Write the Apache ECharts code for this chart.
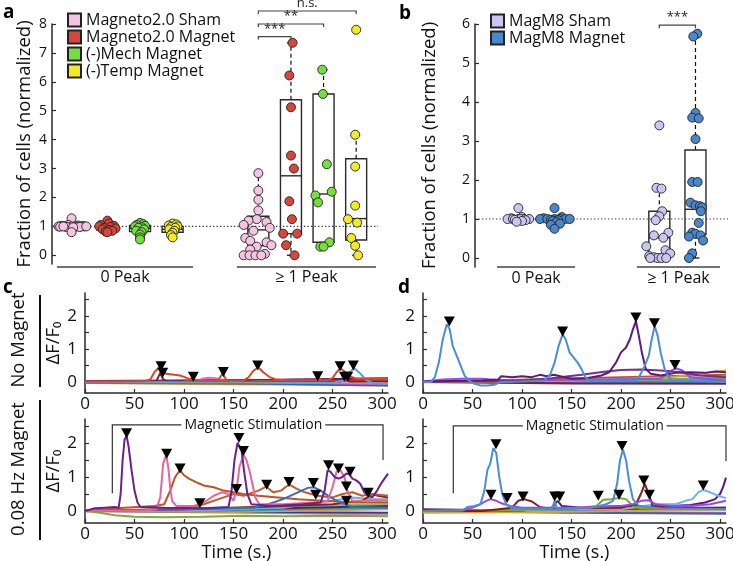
<!DOCTYPE html>
<html><head><meta charset="utf-8">
<script src="https://cdn.jsdelivr.net/npm/echarts@6/dist/echarts.min.js"></script>
<style>html,body{margin:0;padding:0;background:#fff}#c{width:733px;height:561px}</style>
</head><body><div id="c"></div><script>
// ---------- Panel a data ----------
const aLegend = ['Magneto2.0 Sham','Magneto2.0 Magnet','(-)Mech Magnet','(-)Temp Magnet'];
const aSham0 = [1.28,1.05,1.03,1.02,1.01,1.0,1.0,1.0,1.0,1.0,1.0,0.99,0.99,0.98,0.98,0.97,1.0,1.0,0.8];
const aSham0J = [0,-0.1,0.2,-0.3,0.35,-0.4,-0.2,0,0.15,0.3,0.4,-0.35,0.1,-0.15,0.25,0.05,-0.25,0.45,0];
const aMag0 = [1.2,1.1,1.05,1.02,1.0,0.98,0.95,0.93,0.9,0.88,0.85,0.82,0.8];
const aMag0J = [0,0.05,-0.2,0.2,-0.25,0.1,-0.1,0.25,-0.15,0.05,0.15,-0.05,0];
const aMech0 = [1.12,1.08,1.05,1.02,1.0,0.97,0.95,0.9,0.85,0.8,0.72,0.62,0.55];
const aMech0J = [0,0.1,-0.1,0.15,-0.15,0.05,-0.05,0.12,-0.12,0.05,0,0,0];
const aTemp0 = [1.1,1.07,1.03,1.0,0.98,0.95,0.9,0.85,0.78,0.7,0.62];
const aTemp0J = [0,0.12,-0.12,0.15,-0.05,0.08,-0.1,0.05,0,-0.05,0];
const aSham1 = [2.84,2.24,1.92,1.55,1.25,1.2,1.15,1.05,0.95,0.85,0.6,0.5,0.45,0.35,0.3,0.2,0.05,0,0,0,0];
const aSham1J = [0,0,0,0,-0.05,-0.3,0.25,-0.45,0.35,-0.15,-0.4,-0.25,0.25,0.4,-0.05,-0.25,0.2,-0.45,-0.27,-0.09,0.09];
const aMag1 = [7.35,6.22,5.12,3.45,3.0,1.87,1.25,0.75,0.75,0.35,0];
const aMag1J = [0.05,-0.05,0,0,0.09,-0.05,0.03,-0.24,0.19,-0.15,0.11];
const aMech1 = [6.42,5.58,3.15,2.2,2.07,1.83,0.45,0.3,0.3];
const aMech1J = [-0.04,-0.02,0.1,0.25,-0.25,-0.17,0.18,-0.1,0];
const aTemp1 = [7.8,4.17,3.07,1.72,1.25,1.13,0.6,0.33,0];
const aTemp1J = [0,-0.03,-0.03,-0.03,-0.25,0.03,-0.15,-0.03,0.06];
// box stats: [low whisker, q1, median, q3, high whisker]
const aBox0 = [[0.95,0.98,1.0,1.03,1.05],[0.8,0.88,0.95,1.0,1.1],[0.62,0.82,0.93,1.03,1.12],[0.62,0.8,0.9,1.0,1.1]];
const aBox1 = [[0,0.33,0.88,1.35,2.84],[0,0.75,2.75,5.38,7.35],[0.3,0.45,2.12,5.58,6.42],[0,0.53,1.27,3.34,4.17]];
const aSigLabels = ['***','**','n.s.'];
const aSigLevels = [7.56,8.0,8.45];
const yTicksA = [0,1,2,3,4,5,6,7,8];

// ---------- Panel b data ----------
const bLegend = ['MagM8 Sham','MagM8 Magnet'];
const bSham0 = [1.28,1.05,1.02,1.0,1.0,1.0,1.0,1.0,1.0,0.98,0.97,0.95,0.93];
const bSham0J = [0,0.1,-0.2,-0.3,-0.15,0,0.15,0.3,0.05,-0.1,0.2,0.1,-0.05];
const bMag0 = [1.28,1.05,1.02,1.0,1.0,1.0,1.0,1.0,1.0,0.98,0.97,0.95,0.92,0.88,0.85,0.75];
const bMag0J = [0,0.2,-0.3,-0.4,-0.2,0,0.15,0.3,0.42,-0.1,0.1,-0.05,0.05,0.15,-0.1,0];
const bSham1 = [3.4,1.8,1.78,1.2,1.07,0.97,0.65,0.58,0.52,0.3,0.2,0.12,0.05,0.02,0,0,0,0];
const bSham1J = [0,-0.08,0.06,0.08,0,-0.1,0.25,-0.15,0.11,-0.36,0.17,0.3,-0.28,-0.15,-0.05,0.06,0.19,-0.25];
const bMag1 = [5.75,5.68,3.72,3.6,3.58,3.05,1.95,1.95,1.42,1.35,1.33,1.3,1.2,0.9,0.65,0.62,0.58,0.55,0.45,0.12,0];
const bMag1J = [0.05,-0.06,0,-0.09,0.09,0,-0.09,0.06,-0.14,0,0.12,0.18,0.15,0.09,-0.09,0,0.14,-0.18,0.21,-0.09,-0.18];
const bBox0 = [[0.95,0.97,1.0,1.03,1.05],[0.9,0.95,1.0,1.02,1.05]];
const bBox1 = [[0,0.1,0.52,1.2,1.8],[0,0.6,1.25,2.77,5.75]];
const bSigLabels = ['***'];
const bSigLevels = [5.97];
const yTicksB = [0,1,2,3,4,5,6];
const groupLabels = ['0 Peak','\u2265 1 Peak'];

// ---------- Panel c/d traces: [time (s), dF/F0] ----------
const cT_red = [[0,0.02],[30,0.02],[60,0.03],[66,0.08],[70,0.3],[75,0.45],[78,0.32],[82,0.25],[90,0.22],[96,0.2],[100,0.16],[105,0.1],[112,0.06],[130,0.05],[160,0.05],[165,0.14],[170,0.34],[175,0.45],[180,0.3],[186,0.16],[192,0.09],[205,0.06],[245,0.06],[250,0.12],[254,0.3],[258,0.42],[262,0.32],[267,0.18],[274,0.1],[290,0.1],[306,0.12]];
const cT_maroon = [[0,0.0],[60,0.0],[72,0.03],[76,0.28],[79,0.08],[84,0.0],[140,0.02],[150,0.06],[158,0.03],[175,0.0],[258,0.02],[263,0.12],[267,0.02],[306,0.02]];
const cT_orange = [[0,0.01],[100,0.02],[106,0.05],[109,0.12],[113,0.03],[134,0.04],[139,0.26],[143,0.05],[180,0.03],[231,0.04],[235,0.14],[239,0.03],[306,0.04]];
const cT_pink = [[0,0.0],[112,0.0],[118,0.1],[125,0.13],[132,0.12],[137,0.08],[145,0.01],[200,-0.02],[306,-0.05]];
const cT_lblue = [[0,0],[250,-0.02],[262,0.05],[267,0.3],[272,0.42],[278,0.26],[284,0.06],[290,-0.02],[306,-0.05]];
const cT_purple = [[0,0.03],[100,0.05],[200,0.07],[306,0.12]];
const cT_blue = [[0,0],[150,-0.02],[250,-0.08],[306,-0.1]];
const cT_green = [[0,0],[150,0.02],[306,0.08]];
const cT_brown = [[0,-0.02],[150,-0.05],[306,-0.08]];
const cT_dred = [[0,0],[200,-0.04],[306,-0.06]];
const cT_violet = [[0,0.01],[306,0.1]];
const cT_yellow = [[0,-0.03],[306,-0.1]];
const cTopPeaks = [[76.8,0.48],[78.5,0.28],[109.4,0.16],[139.7,0.31],[174.4,0.5],[235,0.18],[257.6,0.48],[262,0.16],[265.3,0.16],[271,0.5]];

const cB_purple = [[0,0.0],[10,0.08],[20,0.1],[30,0.12],[34,0.1],[36,0.5],[38,1.5],[40,2.1],[42,2.2],[44,1.9],[47,1.2],[50,0.6],[53,0.25],[56,0.12],[80,0.1],[120,0.08],[145,0.12],[148,0.6],[151,1.5],[154,2.0],[156,2.05],[158,1.8],[161,1.1],[164,0.5],[168,0.2],[190,0.15],[220,0.2],[238,0.25],[242,0.6],[245,1.2],[248,1.15],[252,1.0],[256,0.95],[260,1.0],[264,1.1],[267,1.08],[270,0.95],[274,0.9],[278,0.8],[282,0.55],[286,0.45],[290,0.4],[295,0.6],[300,0.85],[306,1.1]];
const cB_pink = [[0,0.0],[60,0.02],[72,0.05],[76,0.4],[79,1.4],[82,1.65],[84,1.3],[86,0.7],[88,0.3],[92,0.15],[110,0.15],[120,0.25],[130,0.45],[138,0.55],[145,0.5],[150,0.3],[153,0.6],[156,1.3],[160,1.65],[163,1.5],[166,1.2],[169,0.8],[172,0.4],[176,0.2],[200,0.2],[230,0.25],[245,0.3],[250,0.7],[254,1.15],[258,1.2],[262,1.0],[265,0.6],[270,0.3],[306,0.3]];
const cB_orange = [[0,0.0],[40,0.1],[70,0.15],[80,0.2],[86,0.6],[91,1.0],[96,1.2],[100,1.05],[105,0.95],[112,0.85],[120,0.75],[130,0.7],[140,0.6],[150,0.55],[160,0.5],[175,0.45],[195,0.4],[215,0.35],[240,0.3],[270,0.25],[306,0.25]];
const cB_orange2 = [[0,0.02],[100,0.05],[120,0.2],[140,0.4],[150,0.5],[160,0.45],[175,0.6],[183,0.72],[190,0.55],[198,0.6],[206,0.78],[214,0.65],[222,0.55],[235,0.45],[250,0.4],[260,0.5],[270,0.55],[280,0.45],[290,0.5],[306,0.45]];
const cB_blue = [[0,0.0],[100,0.05],[170,0.1],[185,0.2],[200,0.35],[215,0.55],[225,0.68],[231,0.7],[238,0.6],[248,0.4],[258,0.25],[270,0.12],[306,0.1]];
const cB_green = [[0,0],[15,-0.05],[30,-0.12],[50,-0.17],[80,-0.18],[120,-0.17],[160,-0.14],[200,-0.15],[250,-0.14],[306,-0.15]];
const cB_dred = [[0,0],[100,0.05],[150,0.1],[200,0.15],[250,0.2],[280,0.3],[290,0.5],[296,0.45],[306,0.4]];
const cB_lblue = [[0,0],[100,0.0],[200,0.1],[250,0.3],[270,0.4],[290,0.35],[306,0.35]];
const cB_plum = [[0,0.02],[150,0.05],[306,0.15]];
const cB_teal = [[0,0],[150,0.02],[306,0.1]];
const cB_yellow = [[0,0],[150,-0.03],[306,0.05]];
const cB_navy = [[0,0],[306,-0.05]];
const cB_lime = [[0,0],[306,0.2]];
const cB_rose = [[0,0],[306,-0.1]];
const cBotPeaks = [[42,2.28],[82.5,1.68],[96,1.25],[116,0.23],[153,0.65],[155.5,2.14],[160,1.76],[183.5,0.77],[206,0.85],[230.6,0.82],[233,0.48],[246,1.34],[256,1.25],[264,0.72],[267.7,1.15],[264,0.3],[286,0.54]];

const dT_blue = [[0,0],[8,0.0],[12,0.15],[16,0.6],[20,1.3],[24,1.75],[27,1.6],[30,1.1],[34,0.8],[38,0.5],[42,0.2],[46,0.05],[52,-0.05],[58,-0.1],[65,-0.1],[72,-0.08],[78,0.0],[100,0.02],[122,0.05],[128,0.2],[133,0.6],[137,1.1],[141,1.45],[144,1.3],[148,0.9],[152,0.75],[156,0.6],[160,0.4],[164,0.15],[168,0.05],[200,0.05],[215,0.05],[219,0.2],[224,0.5],[228,0.8],[231,1.3],[234,1.7],[237,1.4],[240,0.9],[244,0.4],[248,0.15],[252,0.05],[306,0.0]];
const dT_purple = [[0,0.02],[60,0.05],[76,0.08],[79,0.18],[90,0.15],[100,0.18],[110,0.15],[118,0.22],[125,0.18],[132,0.22],[150,0.1],[165,0.12],[180,0.2],[188,0.3],[195,0.6],[200,0.9],[205,1.05],[209,1.3],[212,1.6],[215,1.85],[218,1.4],[221,0.9],[225,0.4],[230,0.25],[240,0.2],[255,0.28],[270,0.3],[285,0.28],[295,0.32],[306,0.3]];
const dT_purple2 = [[0,0.0],[100,0.05],[130,0.12],[160,0.22],[185,0.32],[200,0.37],[220,0.38],[240,0.35],[260,0.3],[280,0.2],[306,0.15]];
const dT_violet = [[0,0.02],[20,0.08],[40,0.1],[60,0.1],[80,0.05],[240,0.1],[248,0.3],[255,0.42],[262,0.35],[270,0.15],[306,0.05]];
const dT_yellow = [[0,0],[150,0.05],[250,0.15],[306,0.35]];
const dT_green = [[0,0],[150,0.05],[306,0.1]];
const dT_maroon = [[0,0],[150,-0.04],[306,-0.05]];
const dT_blue2 = [[0,0],[306,-0.02]];
const dT_lblue = [[0,0],[200,0.05],[306,0.15]];
const dT_brown = [[0,0],[306,0.22]];
const dT_teal = [[0,0],[306,0.05]];
const dTopPeaks = [[26.6,1.84],[141,1.53],[215,1.96],[233.7,1.78],[254.5,0.52]];

const dB_blue = [[0,0],[40,0.02],[45,0.12],[52,0.15],[58,0.2],[62,0.6],[65,1.2],[68,1.4],[71,1.85],[74,1.7],[77,1.0],[80,0.5],[84,0.2],[90,0.08],[130,0.05],[133,0.3],[135,0.08],[170,0.1],[185,0.2],[192,0.3],[196,0.8],[199,1.5],[202,1.8],[205,1.5],[208,0.9],[212,0.35],[218,0.15],[240,0.08],[306,0.05]];
const dB_violet = [[0,0],[40,0.02],[50,0.1],[58,0.2],[64,0.3],[68,0.35],[74,0.3],[80,0.22],[88,0.15],[100,0.1],[150,0.1],[200,0.15],[212,0.2],[220,0.3],[228,0.32],[235,0.2],[250,0.15],[270,0.15],[290,0.2],[306,0.3]];
const dB_dred = [[0,0],[60,0.0],[90,0.1],[96,0.3],[102,0.35],[110,0.28],[118,0.12],[125,0.08],[200,0.1],[215,0.2],[220,0.5],[224,0.8],[228,0.5],[232,0.15],[250,0.1],[306,0.1]];
const dB_green = [[0,0],[150,0.05],[175,0.15],[182,0.33],[190,0.35],[198,0.38],[205,0.35],[212,0.15],[220,0.08],[306,0.05]];
const dB_lblue = [[0,0],[200,0.05],[235,0.2],[255,0.2],[265,0.3],[272,0.35],[278,0.55],[283,0.62],[290,0.55],[298,0.45],[306,0.38]];
const dB_purple = [[0,0],[100,0.02],[130,0.1],[136,0.3],[140,0.15],[160,0.1],[200,0.15],[250,0.15],[270,0.18],[285,0.25],[295,0.35],[300,0.5],[303,0.7],[306,0.98]];
const dB_yellow = [[0,-0.05],[150,-0.02],[306,0.05]];
const dB_blue2 = [[0,0],[150,-0.05],[306,-0.08]];
const dB_maroon = [[0,0.05],[100,0.02],[306,0.05]];
const dB_green2 = [[0,0],[306,0.1]];
const dB_mauve = [[0,0],[306,-0.05]];
const dB_lilac = [[0,0],[150,0.0],[306,0.1]];
const dBotPeaks = [[68.7,0.48],[73.7,1.96],[85,0.38],[101,0.43],[133,0.43],[138,0.43],[177,0.45],[198,0.48],[201,1.91],[223,0.9],[228.6,0.48],[283,0.75]];

// stimulation bracket: [start, end, left-bottom, top, right-bottom, text centre]
const cStim = [[27.6,301,0.52,2.53,1.5,170]];
const dStim = [[30.6,306,0.52,2.5,1.47,173.5]];
const timeTicks = [0,50,100,150,200,250,300];
const dffTicks = [0,0.5,1,1.5,2,2.5];
const dffLabels = [0,1,2];

// ---------- layout ----------
const FONT = 'Open Sans';
const posA = [[0.6,1.7,2.7,3.7],[6.33,7.33,8.33,9.33]];
const posB = [[1.2,2.2],[5.1,6.1]];
const colA = ['#f4c4e2','#d6473b','#74e03c','#f3eb22'];
const colB = ['#cac6f2','#4a86cc'];
const AX = '#2a2a2a';

function pts(vals, jit, pos){ return vals.map((v,i)=>[pos+jit[i], v]); }

function boxRender(params, api){
  const x = api.value(0);
  const lo=api.coord([x,api.value(1)]), q1=api.coord([x,api.value(2)]), md=api.coord([x,api.value(3)]), q3=api.coord([x,api.value(4)]), hi=api.coord([x,api.value(5)]);
  const hw=10.5, cw=4, cx=q1[0];
  const st={stroke:'#2a2a2a',lineWidth:1.4,fill:null};
  const ds={stroke:'#111',lineWidth:1.2,lineDash:[4,3],fill:null};
  return {type:'group',children:[
    {type:'line',shape:{x1:cx,y1:q3[1],x2:cx,y2:hi[1]},style:ds},
    {type:'line',shape:{x1:cx,y1:q1[1],x2:cx,y2:lo[1]},style:ds},
    {type:'line',shape:{x1:cx-cw,y1:hi[1],x2:cx+cw,y2:hi[1]},style:st},
    {type:'line',shape:{x1:cx-cw,y1:lo[1],x2:cx+cw,y2:lo[1]},style:st},
    {type:'rect',shape:{x:cx-hw,y:q3[1],width:2*hw,height:q1[1]-q3[1]},style:{stroke:'#2a2a2a',lineWidth:1.4,fill:'none'}},
    {type:'line',shape:{x1:cx-hw,y1:md[1],x2:cx+hw,y2:md[1]},style:st}
  ]};
}
function sigRender(labels){ return function(params, api){
  const x1=api.value(0), x2=api.value(1), y=api.value(2), yt=api.value(3);
  const p1=api.coord([x1,y]), p2=api.coord([x2,y]), p1b=api.coord([x1,yt]), p2b=api.coord([x2,yt]);
  return {type:'group',children:[
    {type:'polyline',shape:{points:[p1b,p1,p2,p2b]},style:{stroke:'#444',lineWidth:1.2,fill:null}},
    {type:'text',x:(p1[0]+p2[0])/2,y:p1[1]-1,style:{text:labels[params.dataIndex],fill:'#222',fontSize:13,fontFamily:FONT,align:'center',verticalAlign:'bottom',textAlign:'center',textVerticalAlign:'bottom'}}
  ]};
};}
function groupRender(params, api){
  const p1=api.coord([api.value(0),api.value(2)]), p2=api.coord([api.value(1),api.value(2)]);
  return {type:'group',children:[
    {type:'line',shape:{x1:p1[0],y1:p1[1],x2:p2[0],y2:p2[1]},style:{stroke:'#444',lineWidth:1.5}},
    {type:'text',x:(p1[0]+p2[0])/2,y:p1[1]+3,style:{text:groupLabels[params.dataIndex],fontSize:16,fontFamily:FONT,fill:'#111',align:'center',verticalAlign:'top',textAlign:'center',textVerticalAlign:'top'}}
  ]};
}
function stimRender(params, api){
  const x1=api.value(0), x2=api.value(1);
  const a=api.coord([x1,api.value(2)]), b=api.coord([x1,api.value(3)]), c=api.coord([x2,api.value(3)]), d=api.coord([x2,api.value(4)]);
  const tx=api.coord([api.value(5),api.value(3)]);
  return {type:'group',children:[
    {type:'polyline',shape:{points:[a,b,c,d]},style:{stroke:'#333',lineWidth:1.2,fill:null}},
    {type:'text',x:tx[0],y:tx[1],style:{text:'Magnetic Stimulation',fontSize:14,fontFamily:FONT,fill:'#111',align:'center',verticalAlign:'middle',textAlign:'center',textVerticalAlign:'middle',backgroundColor:'#fff',padding:[0,3]}}
  ]};
}

const grids = [
  {left:52,top:24,width:326,height:240},
  {left:475,top:24,width:253,height:243},
  {left:85,top:293,width:303,height:100},
  {left:85,top:419,width:303,height:104},
  {left:423,top:293,width:303,height:100},
  {left:423,top:419,width:303,height:104}
].map(g=>Object.assign(g,{containLabel:false,outerBoundsMode:'none'}));

const lineAx = {lineStyle:{color:AX,width:1.5}};
const tickSt = {inside:true,length:4,lineStyle:{color:AX,width:1.2}};

function yAB(min,max,ticks,gap){
  return {type:'value',min:min,max:max,splitLine:{show:false},axisLine:Object.assign({show:true},lineAx),
    axisTick:Object.assign({customValues:ticks},tickSt),
    axisLabel:{customValues:ticks,fontSize:14,color:'#111',margin:5,fontFamily:FONT},
    name:'Fraction of cells (normalized)',nameLocation:'middle',nameGap:gap,
    nameTextStyle:{fontSize:18.5,color:'#111',fontFamily:FONT}};
}
function yCD(min,withName){
  const o = {type:'value',min:min,max:2.7,splitLine:{show:false},axisLine:Object.assign({show:true},lineAx),
    axisTick:Object.assign({customValues:dffTicks},tickSt),
    axisLabel:{customValues:dffLabels,fontSize:17,color:'#111',margin:8,fontFamily:FONT}};
  if(withName){ o.name='\u0394F/F\u2080'; o.nameLocation='middle'; o.nameGap=16; o.nameTextStyle={fontSize:18.5,color:'#111',fontFamily:FONT}; }
  return o;
}
function xCD(withName){
  const o = {type:'value',min:0,max:306,splitLine:{show:false},axisLine:Object.assign({show:true,onZero:false},lineAx),
    axisTick:Object.assign({customValues:timeTicks},tickSt),
    axisLabel:{customValues:timeTicks,fontSize:17,color:'#111',margin:3,fontFamily:FONT}};
  if(withName){ o.name='Time (s.)'; o.nameLocation='middle'; o.nameGap=20; o.nameTextStyle={fontSize:18,color:'#111',fontFamily:FONT}; }
  return o;
}

const xAxes = [
  {type:'value',min:0,max:10,show:false,gridIndex:0},
  {type:'value',min:0,max:7,show:false,gridIndex:1},
  Object.assign(xCD(false),{gridIndex:2}),
  Object.assign(xCD(true),{gridIndex:3}),
  Object.assign(xCD(false),{gridIndex:4}),
  Object.assign(xCD(true),{gridIndex:5})
];
const yAxes = [
  Object.assign(yAB(-0.3,8,yTicksA,18),{gridIndex:0}),
  Object.assign(yAB(-0.23,6,yTicksB,36),{gridIndex:1}),
  Object.assign(yCD(-0.33,true),{gridIndex:2}),
  Object.assign(yCD(-0.35,true),{gridIndex:3}),
  Object.assign(yCD(-0.33,false),{gridIndex:4}),
  Object.assign(yCD(-0.35,false),{gridIndex:5})
];

const series = [];
series.push({type:'line',xAxisIndex:0,yAxisIndex:0,data:[[0,1],[10,1]],symbol:'none',silent:true,lineStyle:{type:[1.3,2.2],color:'#333',width:1.2},z:1});
series.push({type:'line',xAxisIndex:1,yAxisIndex:1,data:[[0,1],[7,1]],symbol:'none',silent:true,lineStyle:{type:[1.3,2.2],color:'#333',width:1.2},z:1});
const boxDataA = [];
aBox0.forEach((b,i)=>boxDataA.push([posA[0][i]].concat(b)));
aBox1.forEach((b,i)=>boxDataA.push([posA[1][i]].concat(b)));
series.push({type:'custom',xAxisIndex:0,yAxisIndex:0,renderItem:boxRender,data:boxDataA,silent:true,z:3});
const boxDataB = [];
bBox0.forEach((b,i)=>boxDataB.push([posB[0][i]].concat(b)));
bBox1.forEach((b,i)=>boxDataB.push([posB[1][i]].concat(b)));
series.push({type:'custom',xAxisIndex:1,yAxisIndex:1,renderItem:boxRender,data:boxDataB,silent:true,z:3});
const aSets = [[aSham0,aSham0J,aSham1,aSham1J],[aMag0,aMag0J,aMag1,aMag1J],[aMech0,aMech0J,aMech1,aMech1J],[aTemp0,aTemp0J,aTemp1,aTemp1J]];
aSets.forEach((s,i)=>{
  series.push({type:'scatter',name:aLegend[i],xAxisIndex:0,yAxisIndex:0,
    data:pts(s[0],s[1],posA[0][i]).concat(pts(s[2],s[3],posA[1][i])),
    symbol:'circle',symbolSize:9,itemStyle:{color:colA[i],borderColor:'#222',borderWidth:0.9,opacity:1},z:5});
});
const bSets = [[bSham0,bSham0J,bSham1,bSham1J],[bMag0,bMag0J,bMag1,bMag1J]];
bSets.forEach((s,i)=>{
  series.push({type:'scatter',name:bLegend[i],xAxisIndex:1,yAxisIndex:1,
    data:pts(s[0],s[1],posB[0][i]).concat(pts(s[2],s[3],posB[1][i])),
    symbol:'circle',symbolSize:9,itemStyle:{color:colB[i],borderColor:'#222',borderWidth:0.9,opacity:1},z:5});
});
series.push({type:'custom',xAxisIndex:0,yAxisIndex:0,renderItem:sigRender(aSigLabels),silent:true,z:6,
  data:aSigLevels.map((y,i)=>[posA[1][0],posA[1][i+1],y,y-0.1])});
series.push({type:'custom',xAxisIndex:1,yAxisIndex:1,renderItem:sigRender(bSigLabels),silent:true,z:6,
  data:bSigLevels.map((y,i)=>[posB[1][0],posB[1][i+1],y,y-0.08])});
series.push({type:'custom',xAxisIndex:0,yAxisIndex:0,renderItem:groupRender,silent:true,z:6,data:[[0.15,4.33,-0.4],[5.67,9.94,-0.4]]});
series.push({type:'custom',xAxisIndex:1,yAxisIndex:1,renderItem:groupRender,silent:true,z:6,data:[[0.61,2.77,-0.23],[4.48,6.78,-0.23]]});

const traceSets = [
  {g:2, peaks:cTopPeaks, tr:[[cT_yellow,'#e6a12b'],[cT_violet,'#9b59b6'],[cT_dred,'#7a1515'],[cT_brown,'#b5651d'],[cT_green,'#74a93a'],[cT_blue,'#2f5fbf'],[cT_purple,'#5c1f7a'],[cT_pink,'#e46ad6'],[cT_orange,'#c8561e'],[cT_maroon,'#8c1c1c'],[cT_lblue,'#5aa3e2'],[cT_red,'#d9452f']]},
  {g:3, peaks:cBotPeaks, tr:[[cB_rose,'#d980c0'],[cB_lime,'#8bc34a'],[cB_navy,'#2a3f9a'],[cB_yellow,'#e69b2b'],[cB_teal,'#2aa0a0'],[cB_plum,'#5a1e6e'],[cB_lblue,'#63aee0'],[cB_dred,'#8a1e1e'],[cB_green,'#7aae35'],[cB_orange2,'#c85a28'],[cB_orange,'#c4511f'],[cB_blue,'#3b6cc7'],[cB_pink,'#e8649c'],[cB_purple,'#6d1f8f']]},
  {g:4, peaks:dTopPeaks, tr:[[dT_teal,'#2c9ea0'],[dT_brown,'#b5561e'],[dT_lblue,'#6cb4e8'],[dT_blue2,'#3f6fc4'],[dT_maroon,'#8a1c1c'],[dT_green,'#78ab3a'],[dT_yellow,'#e6a02a'],[dT_violet,'#8f4df0'],[dT_purple2,'#7b2c8f'],[dT_purple,'#5e1a7e'],[dT_blue,'#4a8dd6']]},
  {g:5, peaks:dBotPeaks, tr:[[dB_lilac,'#b080f0'],[dB_mauve,'#a070c0'],[dB_green2,'#5f8f2f'],[dB_maroon,'#7b2020'],[dB_blue2,'#3d5fb5'],[dB_yellow,'#e6a02a'],[dB_purple,'#5a1a78'],[dB_lblue,'#6db3ea'],[dB_green,'#74a838'],[dB_dred,'#8a1c1c'],[dB_violet,'#9b45f0'],[dB_blue,'#4a8dd6']]}
];
traceSets.forEach(set=>{
  set.tr.forEach(t=>{
    series.push({type:'line',xAxisIndex:set.g,yAxisIndex:set.g,data:t[0],symbol:'none',showSymbol:false,silent:true,
      lineStyle:{color:t[1],width:2},itemStyle:{color:t[1]},z:3});
  });
  series.push({type:'scatter',xAxisIndex:set.g,yAxisIndex:set.g,data:set.peaks,symbol:'triangle',symbolRotate:180,
    symbolSize:[11,10],itemStyle:{color:'#000',opacity:1},silent:true,z:8});
});
series.push({type:'custom',xAxisIndex:3,yAxisIndex:3,renderItem:stimRender,data:cStim,silent:true,z:9});
series.push({type:'custom',xAxisIndex:5,yAxisIndex:5,renderItem:stimRender,data:dStim,silent:true,z:9});

const legendBase = {orient:'vertical',icon:'rect',itemWidth:13,itemHeight:13,itemGap:1,selectedMode:false,
  textStyle:{fontSize:16,color:'#111',fontFamily:FONT}};

const txt = (t,x,y,extra)=>Object.assign({type:'text',x:x,y:y,style:Object.assign({text:t,fill:'#000',fontFamily:FONT,align:'left',verticalAlign:'middle',textAlign:'left',textVerticalAlign:'middle'},extra||{})});
const graphic = [
  txt('a',3,13,{fontSize:19,fontWeight:'bold'}),
  txt('b',399,14,{fontSize:19,fontWeight:'bold'}),
  txt('c',3,288,{fontSize:19,fontWeight:'bold'}),
  txt('d',398,288,{fontSize:19,fontWeight:'bold'}),
  Object.assign(txt('No Magnet',19,340,{fontSize:18.5,align:'center',textAlign:'center',fill:'#111'}),{rotation:Math.PI/2}),
  Object.assign(txt('0.08 Hz Magnet',19,469,{fontSize:18.5,align:'center',textAlign:'center',fill:'#111'}),{rotation:Math.PI/2}),
  {type:'line',shape:{x1:40,y1:295,x2:40,y2:387},style:{stroke:'#111',lineWidth:2}},
  {type:'line',shape:{x1:40,y1:400,x2:40,y2:540},style:{stroke:'#111',lineWidth:2}}
];

const chart = echarts.init(document.getElementById('c'), null, {renderer:'canvas',width:733,height:561});
chart.setOption({
  animation:false,
  backgroundColor:'#fff',
  textStyle:{fontFamily:FONT},
  grid:grids, xAxis:xAxes, yAxis:yAxes,
  legend:[
    Object.assign({data:aLegend,left:62,top:7},legendBase),
    Object.assign({data:bLegend,left:485,top:8},legendBase)
  ],
  graphic:graphic,
  series:series
});
</script></body></html>
